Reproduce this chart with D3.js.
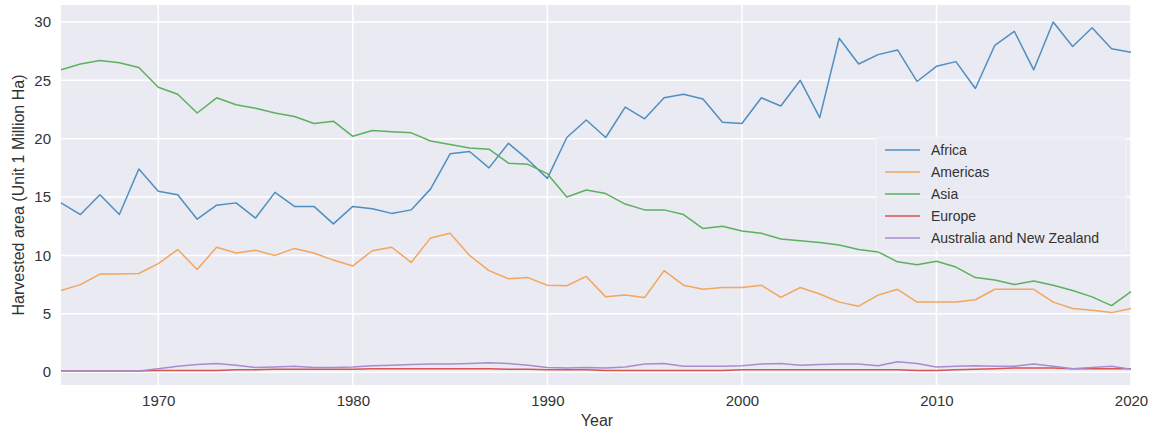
<!DOCTYPE html>
<html>
<head>
<meta charset="utf-8">
<script src="https://cdn.jsdelivr.net/npm/d3@7"></script>
<style>
  html, body { margin: 0; padding: 0; background: #ffffff; }
  svg { display: block; }
  text { font-family: "Liberation Sans", Arial, sans-serif; fill: #333333; }
</style>
</head>
<body>
<svg id="chart" width="1157" height="434"></svg>
<script>
const years = d3.range(1965, 2021);
const seriesNames = ["Africa", "Americas", "Asia", "Europe", "Australia and New Zealand"];
const africa = [14.5, 13.5, 15.2, 13.5, 17.4, 15.5, 15.2, 13.1, 14.3, 14.5, 13.2, 15.4, 14.2, 14.2, 12.7,
  14.2, 14.0, 13.6, 13.9, 15.7, 18.7, 18.9, 17.5, 19.6, 18.2, 16.6, 20.1, 21.6, 20.1, 22.7,
  21.7, 23.5, 23.8, 23.4, 21.4, 21.3, 23.5, 22.8, 25.0, 21.8, 28.6, 26.4, 27.2, 27.6, 24.9,
  26.2, 26.6, 24.3, 28.0, 29.2, 25.9, 30.0, 27.9, 29.5, 27.7, 27.4];
const americas = [7.0, 7.5, 8.4, 8.4, 8.45, 9.3, 10.5, 8.8, 10.7, 10.2, 10.45, 10.0, 10.6, 10.2, 9.6,
  9.1, 10.4, 10.7, 9.4, 11.5, 11.9, 10.0, 8.7, 8.0, 8.1, 7.45, 7.4, 8.2, 6.45, 6.6,
  6.4, 8.7, 7.45, 7.1, 7.25, 7.25, 7.45, 6.4, 7.25, 6.7, 6.0, 5.65, 6.6, 7.1, 6.0,
  6.0, 6.0, 6.2, 7.1, 7.1, 7.1, 6.0, 5.45, 5.3, 5.1, 5.45];
const asia = [25.9, 26.4, 26.7, 26.5, 26.1, 24.4, 23.8, 22.2, 23.5, 22.9, 22.6, 22.2, 21.9, 21.3, 21.5,
  20.2, 20.7, 20.6, 20.5, 19.8, 19.5, 19.2, 19.1, 17.9, 17.8, 17.0, 15.0, 15.6, 15.3, 14.4,
  13.9, 13.9, 13.5, 12.3, 12.5, 12.1, 11.9, 11.4, 11.25, 11.1, 10.9, 10.5, 10.3, 9.45, 9.2,
  9.5, 9.0, 8.1, 7.9, 7.5, 7.8, 7.45, 7.0, 6.45, 5.7, 6.9];
const europe = [0.1, 0.1, 0.1, 0.1, 0.1, 0.15, 0.15, 0.15, 0.15, 0.2, 0.2, 0.25, 0.25, 0.25, 0.25,
  0.25, 0.3, 0.3, 0.3, 0.3, 0.3, 0.3, 0.3, 0.25, 0.25, 0.2, 0.2, 0.2, 0.15, 0.15,
  0.15, 0.15, 0.15, 0.15, 0.15, 0.2, 0.2, 0.2, 0.2, 0.2, 0.2, 0.2, 0.2, 0.2, 0.15,
  0.15, 0.2, 0.25, 0.3, 0.35, 0.35, 0.35, 0.3, 0.3, 0.3, 0.3];
const ausNz = [0.1, 0.1, 0.1, 0.1, 0.1, 0.3, 0.5, 0.65, 0.75, 0.6, 0.4, 0.45, 0.5, 0.4, 0.4,
  0.45, 0.55, 0.6, 0.65, 0.7, 0.7, 0.75, 0.8, 0.75, 0.6, 0.4, 0.35, 0.4, 0.35, 0.45,
  0.7, 0.75, 0.5, 0.5, 0.5, 0.55, 0.7, 0.75, 0.6, 0.65, 0.7, 0.7, 0.55, 0.9, 0.75,
  0.45, 0.5, 0.55, 0.5, 0.5, 0.7, 0.5, 0.3, 0.4, 0.5, 0.25];
const seriesValues = [africa, americas, asia, europe, ausNz];
const colors = ["#4f8fc0", "#f3a65e", "#5cb15c", "#d9534f", "#a98bcf"];
const yTicks = [0, 5, 10, 15, 20, 25, 30];
const xTicks = [1970, 1980, 1990, 2000, 2010, 2020];

const svg = d3.select("#chart");
const plot = { left: 61, right: 1131, top: 5, bottom: 385 };

const x = d3.scaleLinear().domain([1965, 2020]).range([plot.left, plot.right]);
const y = d3.scaleLinear().domain([-1.1, 31.45]).range([plot.bottom, plot.top]);

svg.append("rect")
  .attr("x", plot.left).attr("y", plot.top)
  .attr("width", plot.right - plot.left).attr("height", plot.bottom - plot.top)
  .attr("fill", "#eaeaf2");

// grid
svg.append("g").selectAll("line").data(yTicks).join("line")
  .attr("x1", plot.left).attr("x2", plot.right)
  .attr("y1", d => y(d)).attr("y2", d => y(d))
  .attr("stroke", "#ffffff").attr("stroke-width", 1.5);
svg.append("g").selectAll("line").data(xTicks).join("line")
  .attr("y1", plot.top).attr("y2", plot.bottom)
  .attr("x1", d => x(d)).attr("x2", d => x(d))
  .attr("stroke", "#ffffff").attr("stroke-width", 1.5);

// axes (labels only, seaborn style)
const xAxis = d3.axisBottom(x).tickValues(xTicks).tickFormat(d3.format("d")).tickSize(0).tickPadding(10);
const gx = svg.append("g").attr("transform", `translate(0,${plot.bottom})`).call(xAxis);
gx.select(".domain").remove();
gx.selectAll("text").style("font-size", "15px").attr("fill", "#333");

const yAxis = d3.axisLeft(y).tickValues(yTicks).tickFormat(d3.format("d")).tickSize(0).tickPadding(10);
const gy = svg.append("g").attr("transform", `translate(${plot.left},0)`).call(yAxis);
gy.select(".domain").remove();
gy.selectAll("text").style("font-size", "15px").attr("fill", "#333");

// lines
const line = d3.line().x((d, i) => x(years[i])).y(d => y(d));
const gLines = svg.append("g");
seriesValues.forEach((vals, k) => {
  gLines.append("path")
    .datum(vals)
    .attr("fill", "none")
    .attr("stroke", colors[k])
    .attr("stroke-width", 1.5)
    .attr("stroke-linejoin", "round")
    .attr("d", line);
});

// axis titles
svg.append("text")
  .attr("x", 597).attr("y", 426)
  .attr("text-anchor", "middle").style("font-size", "16px").text("Year");
svg.append("text")
  .attr("transform", `translate(24,${(plot.top + plot.bottom) / 2}) rotate(-90)`)
  .attr("text-anchor", "middle").style("font-size", "16px")
  .text("Harvested area (Unit 1 Million Ha)");

// legend
const lg = svg.append("g").attr("transform", "translate(876,137)");
lg.append("rect").attr("x", 0).attr("y", 0).attr("width", 250).attr("height", 114)
  .attr("rx", 3).attr("fill", "#eaeaf2").attr("fill-opacity", 0.85)
  .attr("stroke", "#f2f2f7").attr("stroke-width", 1);
seriesNames.forEach((name, k) => {
  const yy = 13 + k * 22;
  lg.append("line").attr("x1", 9).attr("x2", 44).attr("y1", yy).attr("y2", yy)
    .attr("stroke", colors[k]).attr("stroke-width", 1.5);
  lg.append("text").attr("x", 55).attr("y", yy).attr("dy", "0.35em")
    .style("font-size", "14px").text(name);
});
</script>
</body>
</html>
